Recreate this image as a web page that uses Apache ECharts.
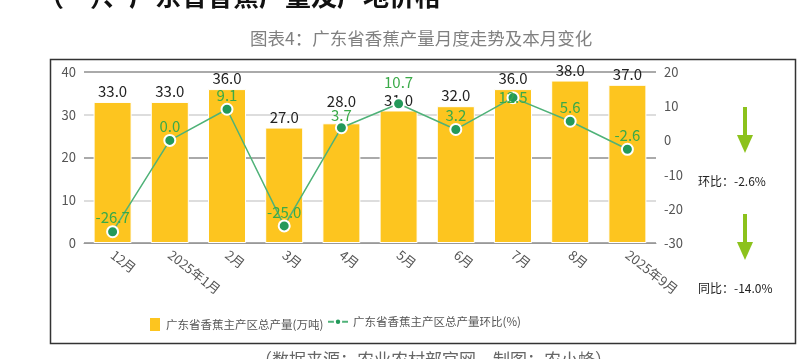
<!DOCTYPE html>
<html>
<head>
<meta charset="utf-8">
<script src="https://cdn.jsdelivr.net/npm/echarts@6/dist/echarts.min.js"></script>
<style>
  html, body { margin: 0; padding: 0; background: #fff; }
  #chart { width: 799px; height: 359px; }
</style>
</head>
<body>
<div id="chart"></div>
<script>
const months = ['12月', '2025年1月', '2月', '3月', '4月', '5月', '6月', '7月', '8月', '2025年9月']
const output = [33.0, 33.0, 36.0, 27.0, 28.0, 31.0, 32.0, 36.0, 38.0, 37.0]
const momChange = [-26.7, 0.0, 9.1, -25.0, 3.7, 10.7, 3.2, 12.5, 5.6, -2.6]
const barName = '广东省香蕉主产区总产量(万吨)'
const lineName = '广东省香蕉主产区总产量环比(%)'
const momText = '环比：-2.6%'
const yoyText = '同比：-14.0%'

const FONT = '"Noto Sans CJK SC", "Noto Sans", sans-serif'
const yellow = '#FDC51F'
const green = '#23995a'
const arrowGreen = '#8cc21c'

const arrow = (top) => ({
  type: 'group',
  left: 737,
  top: top,
  children: [
    { type: 'rect', shape: { x: 6, y: 0, width: 4, height: 30 }, style: { fill: arrowGreen } },
    { type: 'polygon', shape: { points: [[0, 28], [16, 28], [8, 46]] }, style: { fill: arrowGreen } },
  ],
})

// labels that collide get nudged, as in the original
const barData = output.map((v, i) => (i === 4 ? { value: v, label: { distance: 15 } } : v))
const lineData = momChange.map((v, i) => {
  if (i === 7) return { value: v, label: { position: 'inside' } }
  if (i === 5) return { value: v, label: { distance: 8 } }
  if (i === 4) return { value: v, label: { distance: -2 } }
  return v
})

const chart = echarts.init(document.getElementById('chart'))
chart.setOption({
  backgroundColor: '#fff',
  textStyle: { fontFamily: FONT },
  graphic: [
    {
      type: 'text', left: 38, top: -17,
      style: { text: '（一）、广东省香蕉产量及产地价格', fill: '#111', font: 'bold 26px ' + FONT },
    },
    {
      type: 'text', left: 250, top: 30,
      style: { text: '图表4：广东省香蕉产量月度走势及本月变化', fill: '#808080', font: '17.5px ' + FONT },
    },
    {
      type: 'rect', left: 48, top: 57,
      shape: { width: 745, height: 284 },
      style: { fill: 'none', stroke: '#333', lineWidth: 1.5 },
    },
    {
      type: 'text', left: 255, top: 351,
      style: { text: '（数据来源：农业农村部官网，制图：农小蜂）', fill: '#666', font: '17px ' + FONT },
    },
    arrow(107),
    arrow(214),
    { type: 'text', left: 698, top: 175, style: { text: momText, fill: '#222', font: '12px ' + FONT } },
    { type: 'text', left: 698, top: 282, style: { text: yoyText, fill: '#222', font: '12px ' + FONT } },
  ],
  grid: { left: 84, right: 143, top: 72, bottom: 116 },
  legend: [
    {
      left: 143, top: 311,
      data: [{ name: barName, icon: 'rect' }],
      itemWidth: 12, itemHeight: 15, itemGap: 20,
      textStyle: { color: '#555', fontSize: 11.5, fontFamily: FONT },
    },
    {
      left: 322, top: 311,
      data: [lineName],
      itemWidth: 20, itemHeight: 8, itemGap: 6,
      textStyle: { color: '#555', fontSize: 11.5, fontFamily: FONT },
    },
  ],
  xAxis: {
    type: 'category',
    data: months,
    axisLine: { lineStyle: { color: '#999' } },
    axisTick: { length: 5, lineStyle: { color: '#bbb' } },
    axisLabel: { color: '#555', fontSize: 13, rotate: -38, margin: 10, interval: 0 },
  },
  yAxis: [
    {
      type: 'value', min: 0, max: 40, interval: 10,
      axisLabel: { color: '#555', fontSize: 13, margin: 8 },
      axisLine: { show: false },
      splitLine: { lineStyle: { color: ['#aaa', '#ddd'], width: 2 } },
    },
    {
      type: 'value', min: -30, max: 20, interval: 10,
      axisLabel: { color: '#555', fontSize: 13, margin: 8 },
      axisLine: { show: false },
      splitLine: { show: false },
    },
  ],
  series: [
    {
      name: barName,
      type: 'bar',
      data: barData,
      barWidth: 38,
      itemStyle: { color: yellow, borderColor: '#fff', borderWidth: 1 },
      label: { show: true, position: 'top', color: '#222', fontSize: 15, distance: 3, formatter: p => p.value.toFixed(1) },
    },
    {
      name: lineName,
      type: 'line',
      yAxisIndex: 1,
      data: lineData,
      symbol: 'circle',
      symbolSize: 11,
      lineStyle: { color: '#4fb278', width: 1.5 },
      itemStyle: { color: green, borderColor: '#fff', borderWidth: 2 },
      label: { show: true, position: 'top', color: '#3aaa48', fontSize: 15, distance: 0, formatter: p => p.value.toFixed(1) },
    },
  ],
})
</script>
</body>
</html>
